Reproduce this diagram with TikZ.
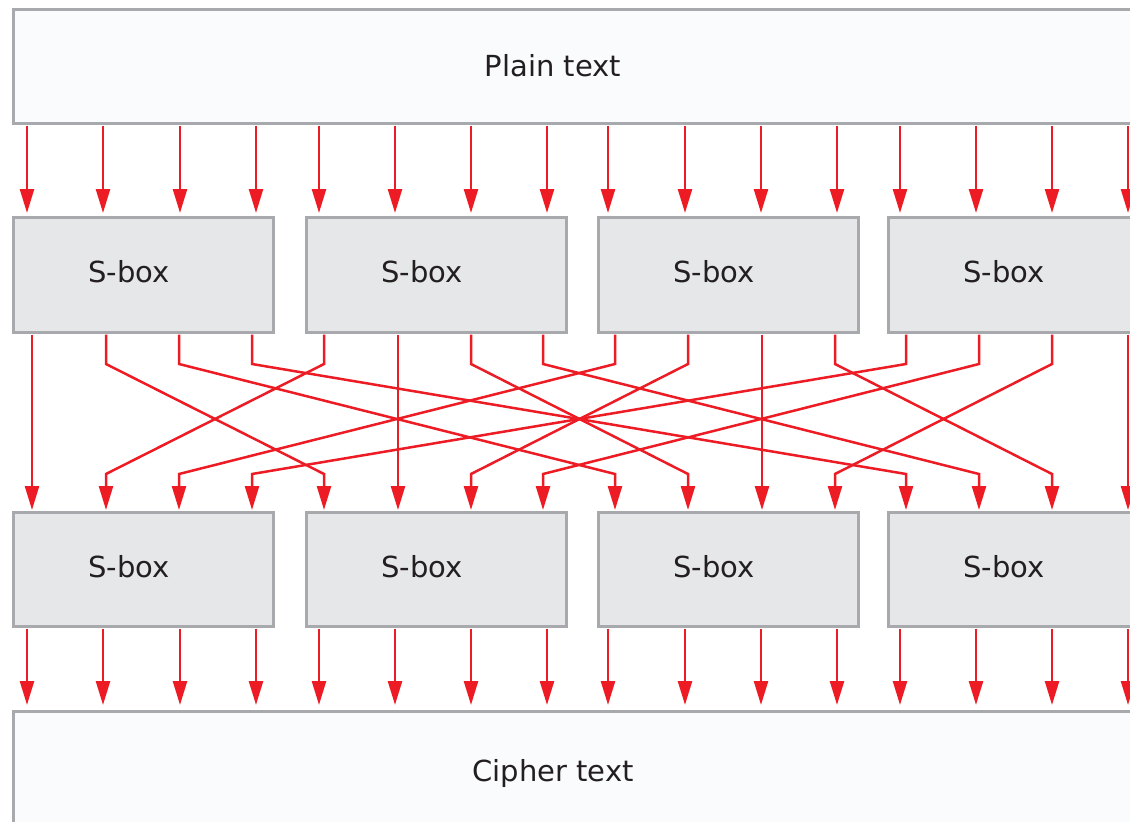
\documentclass[tikz,border=0pt]{standalone}
\usepackage{fontspec}
\setmainfont{DejaVu Sans}
\usetikzlibrary{arrows.meta}
\definecolor{wirered}{HTML}{ED1C24}
\definecolor{edgegray}{HTML}{A7A9AC}
\definecolor{sboxfill}{HTML}{E6E7E8}
\definecolor{pagefill}{HTML}{FAFBFD}
\definecolor{ink}{HTML}{231F20}
\begin{document}
\begin{tikzpicture}[x=1pt,y=-1pt,
  sbox/.style={draw=edgegray, line width=2.5pt, fill=sboxfill, minimum width=260pt,
    minimum height=115pt, inner sep=0pt, anchor=north west},
  databox/.style={draw=edgegray, line width=2.5pt, fill=pagefill, minimum width=1140pt,
    minimum height=114pt, inner sep=0pt, anchor=north west},
  lbl/.style={font=\fontsize{29}{35}\selectfont, text=ink, inner sep=0pt, anchor=base},
  wire/.style={draw=wirered, line width=2.5pt, line join=miter,
    -{Triangle[length=24pt,width=14pt]}}]
\useasboundingbox (0,0) rectangle (1130,822);

% data blocks
\node[databox] (plain) at (12,8) {};
\node[databox, minimum height=140pt] (cipher) at (12,710) {};
\node[lbl] (plainlbl) at (553,76) {Plain text};
\node[lbl] (cipherlbl) at (553,781) {Cipher text};

% two rounds of substitution boxes
\foreach \k/\x in {1/12,2/305,3/597,4/887}{
  \node[sbox] (a\k) at (\x,216) {};
  \node[sbox, minimum height=114pt] (b\k) at (\x,511) {};
  \node[lbl] (ta\k) at (\x+117,282) {S-box};
  \node[lbl] (tb\k) at (\x+117,577) {S-box};
}

% input and output bit lines
\foreach \x [count=\n from 0] in {27,103,180,256,319,395,471,547,608,685,761,837,900,976,1052,1128}{
  \pgfmathtruncatemacro\k{int(\n/4)+1}
  \draw[wire, shorten <=1pt, shorten >=3pt] (plain.south -| \x,0) -- (a\k.north -| \x,0);
  \draw[wire, shorten <=1pt, shorten >=5pt] (b\k.south -| \x,0) -- (cipher.north -| \x,0);
}

% bit permutation between the rounds: bit 4i+j goes to bit 4j+i
\foreach \i in {0,...,3}{
  \foreach \j in {0,...,3}{
    \pgfmathtruncatemacro\s{\i+1}
    \pgfmathtruncatemacro\d{\j+1}
    \pgfmathsetmacro\xa{{32,106,179,252,324,398,471,543,615,688,762,835,906,979,1052,1128}[4*\i+\j]}
    \pgfmathsetmacro\xb{{32,106,179,252,324,398,471,543,615,688,762,835,906,979,1052,1128}[4*\j+\i]}
    \ifnum\i=\j
      \draw[wire, shorten <=1pt, shorten >=1pt] (a\s.south -| \xa,0) -- (b\d.north -| \xb,0);
    \else
      \draw[wire, shorten <=1pt, shorten >=1pt] (a\s.south -| \xa,0) -- (\xa,364) -- (\xb,474) -- (b\d.north -| \xb,0);
    \fi
  }
}
\end{tikzpicture}
\end{document}
